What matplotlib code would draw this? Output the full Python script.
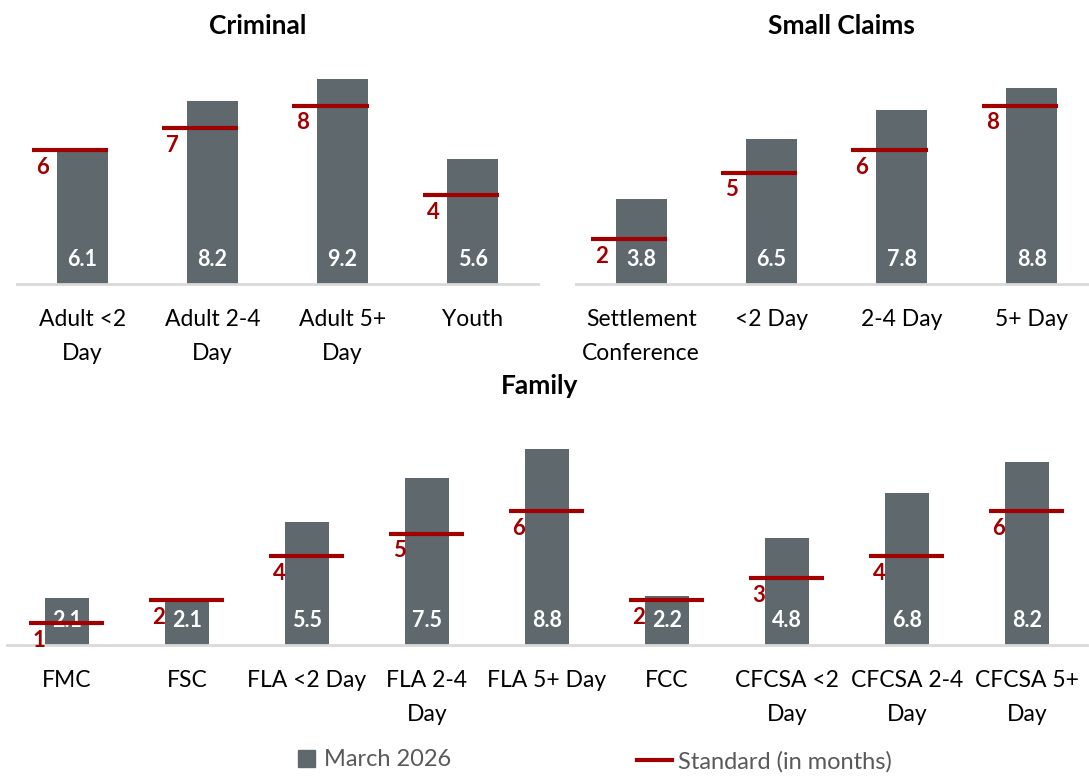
import numpy as np
import matplotlib
matplotlib.use('Agg')
import matplotlib.pyplot as plt
from matplotlib.lines import Line2D
from matplotlib.patches import Patch

plt.rcParams['font.family'] = ['Lato', 'DejaVu Sans']

# Data
criminal_labels = ['Adult <2\nDay', 'Adult 2-4\nDay', 'Adult 5+\nDay', 'Youth']
criminal_march = [6.1, 8.2, 9.2, 5.6]
criminal_standard = [6, 7, 8, 4]

small_claims_labels = ['Settlement\nConference', '<2 Day', '2-4 Day', '5+ Day']
small_claims_march = [3.8, 6.5, 7.8, 8.8]
small_claims_standard = [2, 5, 6, 8]

family_labels = ['FMC', 'FSC', 'FLA <2 Day', 'FLA 2-4\nDay', 'FLA 5+ Day', 'FCC',
                 'CFCSA <2\nDay', 'CFCSA 2-4\nDay', 'CFCSA 5+\nDay']
family_march = [2.1, 2.1, 5.5, 7.5, 8.8, 2.2, 4.8, 6.8, 8.2]
family_standard = [1, 2, 4, 5, 6, 2, 3, 4, 6]

BAR = '#5E686D'
RED = '#A00000'
W, H = 1089, 777


def draw_panel(ax, labels, march, standard, bar_w, line_lo, line_hi):
    x = np.arange(len(labels))
    ax.bar(x, march, width=bar_w, color=BAR, zorder=2)
    ax.hlines(standard, x + line_lo, x + line_hi, color=RED, lw=3, zorder=4)
    for xi, m, s in zip(x, march, standard):
        ax.annotate(f'{m:.1f}', (xi, 0), xytext=(0, 17.5), textcoords='offset points',
                    ha='center', va='center', color='white', fontsize=15.5,
                    fontweight='bold', zorder=3)
        ax.annotate(str(s), (xi + line_lo, s), xytext=(7.5, -12.5), textcoords='offset points',
                    ha='center', va='center', color=RED, fontsize=16,
                    fontweight='bold', zorder=5)
    ax.set_xlim(-0.5, len(labels) - 0.5)
    ax.set_ylim(0, 10)
    ax.set_xticks(x)
    ax.set_xticklabels(labels, fontsize=16.5, linespacing=1.75)
    ax.tick_params(axis='x', length=0, pad=18)
    ax.set_yticks([])
    for sp in ['top', 'left', 'right']:
        ax.spines[sp].set_visible(False)
    ax.spines['bottom'].set_color('#D9D9D9')
    ax.spines['bottom'].set_linewidth(2)
    ax.set_facecolor('none')


fig = plt.figure(figsize=(W / 100, H / 100), dpi=100)

# axes placed in pixel terms: [left, bottom, width, height]
ax1 = fig.add_axes([17 / W, (H - 284) / H, 521 / W, 223 / H])
ax2 = fig.add_axes([576 / W, (H - 284) / H, 521 / W, 223 / H])
ax3 = fig.add_axes([7 / W, (H - 645) / H, 1080 / W, 223 / H])

draw_panel(ax1, criminal_labels, criminal_march, criminal_standard, 0.39, -0.385, 0.2)
draw_panel(ax2, small_claims_labels, small_claims_march, small_claims_standard, 0.39, -0.385, 0.2)
draw_panel(ax3, family_labels, family_march, family_standard, 0.37, -0.32, 0.31)

fig.text(258 / W, 1 - 26 / H, 'Criminal', ha='center', va='center', fontsize=19, fontweight='bold')
fig.text(841 / W, 1 - 26 / H, 'Small Claims', ha='center', va='center', fontsize=19, fontweight='bold')
fig.text(540 / W, 1 - 386 / H, 'Family', ha='center', va='center', fontsize=19, fontweight='bold')

fig.legend(handles=[Patch(color=BAR)], labels=['March 2026'], loc='center left',
           bbox_to_anchor=(298 / W, 1 - 760 / H), frameon=False, handlelength=0.7,
           handleheight=0.7, handletextpad=0.4, fontsize=17, labelcolor='#595959',
           borderaxespad=0, borderpad=0)
fig.legend(handles=[Line2D([], [], color=RED, lw=3)], labels=['Standard (in months)'],
           loc='center left', bbox_to_anchor=(637 / W, 1 - 762 / H), frameon=False,
           handlelength=1.5, handletextpad=0.25, fontsize=17, labelcolor='#595959',
           borderaxespad=0, borderpad=0)

fig.savefig('out.png', dpi=100)
